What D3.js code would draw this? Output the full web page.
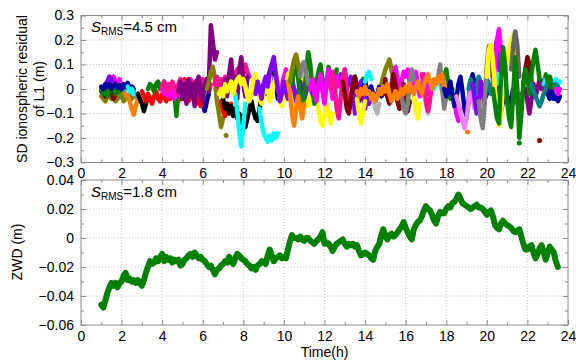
<!DOCTYPE html>
<html><head><meta charset="utf-8">
<script src="https://cdn.jsdelivr.net/npm/d3@7"></script>
<style>
body{margin:0;background:#fff}
text{font-family:"Liberation Sans",Arial,sans-serif;fill:#000}
</style>
</head><body>
<svg id="c" width="576" height="361"></svg>
<script>
// ---------------- DATA ----------------
const xTicks = [0,2,4,6,8,10,12,14,16,18,20,22,24];
const xMinorTicks = [1,3,5,7,9,11,13,15,17,19,21,23];
const ionoTicks = [-0.3,-0.2,-0.1,0,0.1,0.2,0.3];
const ionoMinorTicks = [-0.25,-0.15,-0.05,0.05,0.15,0.25];
const zwdTicks = [-0.06,-0.04,-0.02,0,0.02,0.04];
const zwdMinorTicks = [-0.05,-0.03,-0.01,0.01,0.03];
const topNote = "4.5 cm";
const bottomNote = "1.8 cm";

// ZWD (m), 0.1 h sampling from 1.0 h
const zwdStart = 1.0;
const zwdStep = 0.1;
const zwdValues = [
-0.046,-0.048,-0.043,-0.038,-0.034,-0.031,-0.033,-0.031,-0.034,-0.031,
-0.030,-0.026,-0.024,-0.029,-0.028,-0.030,-0.029,-0.031,-0.029,-0.031,
-0.033,-0.029,-0.024,-0.020,-0.016,-0.018,-0.017,-0.014,-0.016,-0.013,
-0.011,-0.016,-0.013,-0.015,-0.014,-0.017,-0.015,-0.016,-0.015,-0.019,
-0.018,-0.015,-0.014,-0.012,-0.011,-0.013,-0.010,-0.012,-0.014,-0.013,
-0.015,-0.016,-0.018,-0.020,-0.019,-0.022,-0.025,-0.022,-0.021,-0.019,
-0.018,-0.016,-0.017,-0.013,-0.016,-0.018,-0.014,-0.011,-0.012,-0.014,
-0.015,-0.016,-0.018,-0.019,-0.021,-0.020,-0.022,-0.019,-0.018,-0.016,
-0.017,-0.018,-0.012,-0.008,-0.012,-0.016,-0.014,-0.013,-0.012,-0.014,
-0.013,-0.014,-0.008,-0.002,0.002,0.000,0.000,-0.001,0.001,-0.001,
-0.002,0.000,0.000,-0.002,-0.003,-0.004,-0.002,-0.001,0.001,0.004,
-0.004,-0.003,-0.004,-0.006,-0.009,-0.006,-0.004,-0.003,-0.002,-0.001,
-0.004,-0.006,-0.004,-0.005,-0.004,-0.006,-0.005,-0.009,-0.012,-0.011,
-0.010,-0.011,-0.012,-0.014,-0.015,-0.009,-0.006,-0.004,0.002,0.006,
0.001,-0.001,0.002,0.003,0.001,0.002,0.004,0.006,0.008,0.011,
0.007,0.004,0.001,-0.001,0.006,0.009,0.011,0.012,0.015,0.019,
0.022,0.020,0.019,0.016,0.012,0.010,0.015,0.018,0.017,0.017,
0.020,0.022,0.021,0.024,0.025,0.027,0.030,0.027,0.024,0.023,
0.022,0.021,0.020,0.021,0.022,0.023,0.021,0.021,0.020,0.018,
0.016,0.018,0.019,0.015,0.009,0.007,0.006,0.010,0.012,0.010,
0.009,0.008,0.007,0.005,0.004,0.005,0.006,0.001,-0.004,-0.008,
-0.008,-0.006,-0.005,-0.010,-0.014,-0.011,-0.007,-0.005,-0.010,-0.015,
-0.010,-0.006,-0.008,-0.010,-0.016,-0.020
];

// SD ionospheric residuals (m), 0.1 h sampling; one array per satellite pair
const ionoStep = 0.1;
const iono01 = [-0.03,-0.04,-0.05,-0.03,-0.02,-0.04,-0.03,-0.05,-0.04,-0.02,-0.03,-0.05,-0.04,-0.03,-0.02,-0.04,-0.03];
const iono02 = [-0.01,-0.02,-0.03,-0.01,0.0,-0.02,-0.04,-0.02];
const iono03 = [0.0,-0.02,0.01,-0.03,-0.01,0.02,0.0,-0.02,0.01,-0.01,0.0];
const iono04 = [0.02,0.03,0.05,0.04,0.05,0.03,0.02,0.04,0.01];
const iono05 = [0.03,0.05,0.04,0.02];
const iono06 = [0.01,0.0,0.02,0.01,0.02,0.0,0.015,0.02,0.005,0.015,0.0,0.02,0.01,0.025,0.005,0.01,0.0];
const iono07 = [-0.02,-0.03,-0.05,-0.08,-0.105,-0.07,-0.04];
const iono08 = [-0.02,-0.01,-0.03,-0.02];
const iono09 = [0.01,-0.01,0.0,-0.02];
const iono10 = [-0.02,-0.04,-0.06,-0.09,-0.06,-0.03];
const iono11 = [-0.01,-0.03,-0.05,-0.02,-0.04,-0.06,-0.03,-0.01,-0.04,-0.05,-0.02,-0.03,-0.05,-0.02,-0.04,-0.03,-0.01,-0.03,-0.05,-0.02,-0.04];
const iono12 = [0.0,0.02,0.01,-0.01,0.02,0.03,0.0,0.01,0.03,0.0,-0.01,0.02,0.01,0.0,-0.11,0.0,0.02,0.03,0.01,0.02];
const iono13 = [0.0,-0.02,0.01,-0.03,0.0,-0.02,-0.04,0.0,-0.01,-0.03];
const iono14 = [0.02,-0.03,0.04,-0.01,-0.05,0.01,-0.04,-0.02,-0.06,-0.03,-0.07,-0.04];
const iono15 = [0.01,0.03,-0.01,0.02,0.0,0.03,0.01,-0.02,0.02,0.04,0.0,0.03,-0.01,0.02,0.04,0.0,0.03,0.01,-0.02,0.02,0.04,0.01,0.03,-0.01,0.02];
const iono16 = [-0.01,0.03,-0.04,0.02,-0.06,0.04,-0.03,0.02,-0.07,0.03,0.05,-0.02,-0.05,0.02,0.04,-0.01];
const iono17 = [0.02,0.26,0.19,0.12,0.15];
const iono18 = [0.0,0.03,0.07,0.09,0.04,-0.05,-0.1,-0.155,-0.12];
const iono19 = [-0.19];
const iono20 = [-0.05,-0.09,-0.11,-0.07,-0.1,-0.06];
const iono21 = [0.02,0.05,0.0,0.04,0.01,0.05,0.02,0.06,0.03,0.07,0.04,0.08,0.05,0.09,0.06,0.1,0.07,0.05];
const iono22 = [-0.02,0.04,-0.03,0.06,0.12,0.0,0.05,-0.04,0.08,0.13,0.02,-0.03,0.05];
const iono23 = [-0.04,-0.08,-0.06,-0.10,-0.07,-0.11,-0.08,-0.12,-0.10,-0.14,-0.11,-0.155,-0.12,-0.08,-0.05,-0.09,-0.12,-0.13,-0.08,-0.03,0.02,-0.02,0.04,0.07,0.10,0.08,0.02,-0.04];
const iono24 = [-0.02,-0.09,-0.17,-0.235,-0.15,-0.06];
const iono25 = [-0.08,-0.14,-0.18,-0.20,-0.215,-0.19,-0.21,-0.18,-0.20,-0.18];
const iono26 = [-0.02,0.0,-0.03,0.02,-0.01,0.01,0.03,-0.02,0.02,0.04,0.05,0.02,0.04,0.01,-0.03,-0.05,-0.02,0.03,0.06,0.02,-0.04,-0.06,-0.02,0.03,0.0,-0.05,-0.03,0.02,0.05,0.01,-0.04,-0.07,-0.03,0.02,0.06,0.07,0.02,-0.06,-0.09,-0.05,0.0,0.04,0.02,-0.03,-0.07,-0.04,0.01,0.04,-0.01,-0.08,-0.13,-0.15,-0.11,-0.06,-0.1,-0.14,-0.1];
const iono27 = [-0.02,0.03,0.0,-0.04,0.02,0.05,0.01,0.06,0.1,0.13,0.06,0.0,-0.05,-0.02,0.03,-0.01,-0.04,0.0,0.04,0.0,-0.05,-0.02,0.03,0.0,-0.04,-0.01,0.03,0.01,-0.02,0.02,0.04,0.0];
const iono28 = [0.02,0.05,0.03,0.06,0.02,0.08,0.0,0.03,0.05,0.01,-0.1,0.02,-0.01,0.03,-0.03,-0.08,-0.02,-0.06,-0.03];
const iono29 = [0.02,0.08,0.12,0.05,-0.04,-0.09,-0.03,0.08,0.15,0.1,0.0,-0.06,0.02,0.07,0.1,0.04,-0.05,0.02,0.09,0.05,-0.02,0.03,0.08];
const iono30 = [0.03,-0.02,-0.1,-0.15,-0.08,-0.03,-0.07,-0.12,-0.06];
const iono31 = [0.03,0.08,0.12,0.14,0.1,0.05];
const iono32 = [0.05,0.1,0.11,0.06,0.02];
const iono33 = [0.0,0.04,-0.02,-0.05,0.02,0.06,-0.01,-0.06,0.03,0.08,0.02,-0.04,0.0,0.05,0.01];
const iono34 = [0.0,0.07,0.02,-0.08,-0.12,-0.04,0.05,0.08,-0.02,-0.09,-0.03,0.02];
const iono35 = [0.03,-0.02,-0.08,-0.1,-0.04,0.02,0.05,-0.01,-0.05,-0.03];
const iono36 = [0.0,0.04,-0.01,-0.03,0.01,-0.02,-0.05,-0.02,0.01,-0.03,-0.02,0.0,-0.03,-0.01];
const iono37 = [-0.04,-0.1,-0.14,-0.09,-0.05];
const iono38 = [0.03,0.06,0.07,0.04];
const iono39 = [-0.04,-0.08,-0.1,-0.06];
const iono40 = [0.02,0.05,0.08,0.1,0.12,0.08,0.03];
const iono41 = [0.02,0.06,0.09,0.04,-0.02,0.03,0.07,0.05,0.08,0.03,-0.01,0.04,0.07,0.02,-0.03,0.01,0.06,0.04,-0.02,0.03];
const iono42 = [-0.02,0.04,-0.03,-0.06,0.0,0.06,0.02,-0.05,-0.08,-0.03,0.02,-0.04,-0.09,-0.05];
const iono43 = [-0.03,-0.08,-0.1,-0.06,0.02,0.08,0.04];
const iono44 = [0.05,0.1,0.0,-0.08,-0.03];
const iono45 = [0.06,0.02,-0.05,-0.09,-0.04,0.02];
const iono46 = [-0.01,-0.03,0.0,-0.02,0.01,-0.02,-0.01,-0.04,-0.02,-0.05,-0.03,0.0,-0.02,0.01,-0.01,0.02,-0.02,-0.05,-0.03,-0.01,-0.04,-0.02,0.0,-0.02,0.01,-0.01,0.02,0.0,-0.02,0.01,0.03,0.0,-0.02,0.02,0.04,0.06,0.03,0.0,0.04,0.02,0.05,0.03,0.06,0.02,0.0];
const iono47 = [0.0,-0.03,-0.01,0.03,-0.02,-0.07,-0.04,0.02,0.05,-0.01,-0.08,-0.11,-0.05,0.02,0.06,0.02,-0.04,-0.02,0.03,0.0,-0.04,-0.02,0.02];
const iono48 = [0.02,-0.04,-0.09,-0.05,0.01,-0.03,-0.08,-0.04,0.0,-0.03,-0.06,-0.02];
const iono49 = [-0.03,-0.06,-0.1,-0.13,-0.16,-0.12,-0.05,0.0,-0.04,-0.08,-0.05,0.0,-0.03,-0.06,-0.02];
const iono50 = [-0.175];
const iono51 = [0.0,0.04,0.02,-0.02,0.01,0.05,0.02,-0.03,0.0,0.04,0.02,-0.02];
const iono52 = [0.02,-0.04,-0.1,-0.05,0.03,0.0,-0.06];
const iono53 = [-0.05,-0.12,-0.16,-0.05,0.1,0.175,0.12,0.03];
const iono54 = [0.05,0.15,0.2,0.1,0.02];
const iono55 = [0.0,0.1,0.2,0.245,0.15,0.05,0.0];
const iono56 = [0.02,0.06,0.03,0.0,0.04];
const iono57 = [0.05,0.16,0.18,0.12,0.0,-0.1,-0.15,-0.1,0.0,0.08,0.12,0.16,0.2,0.22,0.15,-0.02,-0.13,-0.08,0.0];
const iono58 = [0.08,0.18,0.235,0.18,0.05];
const iono59 = [0.02,0.08,0.13,0.1,0.03];
const iono60 = [-0.21];
const iono61 = [0.0,-0.05,-0.1,-0.04,0.02,-0.03,0.0,0.04,0.0,0.03,0.05,0.02,-0.02,0.01,0.03,0.02,0.0];
const iono62 = [0.0,-0.06,-0.12,-0.14,0.05,0.17,0.1,-0.05,-0.12,-0.155,-0.02,0.13,0.0,-0.2,-0.1,0.02,0.08,0.05,-0.02,0.06,0.12,0.16,0.1,0.04];
const iono63 = [-0.22];
const iono64 = [0.02,0.04,0.03,0.05,0.02,0.03,0.04,0.02,0.03];
const iono65 = [0.02,-0.01,-0.03,-0.05,-0.07,-0.05,-0.02,0.0,0.03,0.05,0.02,-0.01,0.02,0.01];
const iono66 = [0.06,0.03,0.05,0.0];
const iono67 = [-0.02,-0.04,-0.01,-0.04,-0.03,-0.05,-0.03];
const iono68 = [0.0,-0.02,0.0];
const iono69 = [-0.01,0.02,0.0,-0.02,0.01];
const iono70 = [0.0,-0.03,-0.01,-0.04,-0.02,0.01];
const iono71 = [-0.03,-0.06,-0.09,-0.05,-0.02];
const iono72 = [0.0,0.02,-0.01,0.03,0.0,-0.02,0.02];
const iono73 = [0.03,0.06,0.02,-0.03,0.01,0.05,0.08,0.04];
const iono74 = [0.02,0.05,0.01,-0.03,0.02,0.04];
const iono75 = [-0.02,-0.06,-0.1,-0.05];
const iono76 = [0.0,0.03,0.05,0.02,-0.01];
const iono77 = [0.05,0.08,0.02,-0.04,0.0];
const iono78 = [-0.04,-0.1,-0.13,-0.08];
const iono79 = [-0.02,-0.05,-0.08,-0.04];
const iono80 = [-0.03,-0.08,-0.12,-0.06];

const ionoStarts = [1.0,1.0,1.0,1.2,1.3,1.0,2.2,2.5,2.3,2.8,
  3.0,3.3,4.0,4.9,4.0,4.8,6.3,6.2,7.15,6.9,
  6.6,7.0,7.0,7.6,8.8,6.8,8.6,12.5,10.4,10.2,
  10.3,10.8,11.3,12.3,12.9,13.9,13.6,14.0,14.4,14.8,
  15.3,14.9,15.8,17.6,16.8,13.6,17.9,20.5,18.5,19.05,
  19.1,19.3,19.6,20.3,20.3,20.5,20.0,21.2,21.8,22.6,
  21.9,20.3,21.6,22.8,22.2,22.9,23.0,23.4,1.8,5.8,
  5.9,5.5,9.5,13.4,16.9,17.4,17.9,18.4,15.5,16.4];
const ionoSeries = [iono01,iono02,iono03,iono04,iono05,iono06,iono07,iono08,iono09,iono10,
  iono11,iono12,iono13,iono14,iono15,iono16,iono17,iono18,iono19,iono20,
  iono21,iono22,iono23,iono24,iono25,iono26,iono27,iono28,iono29,iono30,
  iono31,iono32,iono33,iono34,iono35,iono36,iono37,iono38,iono39,iono40,
  iono41,iono42,iono43,iono44,iono45,iono46,iono47,iono48,iono49,iono50,
  iono51,iono52,iono53,iono54,iono55,iono56,iono57,iono58,iono59,iono60,
  iono61,iono62,iono63,iono64,iono65,iono66,iono67,iono68,iono69,iono70,
  iono71,iono72,iono73,iono74,iono75,iono76,iono77,iono78,iono79,iono80];
// drawing order (indices into ionoSeries): extra fill-in series go underneath
const ionoOrder = [68,69,70,71,72,73,74,75,76,77,78,79].concat(d3.range(0,68));

// ---------------- STYLE ----------------
const C = {olive:"#808000",maroon:"#800000",green:"#008000",magenta:"#ff00ff",violet:"#8000ff",
  navy:"#0000a0",orange:"#ff8000",gray:"#808080",cyan:"#00ffff",black:"#000000",red:"#ff0000",
  pink:"#ff1493",purple:"#800080",yellow:"#ffff00",lgray:"#b4b4b4",teal:"#008080",lviolet:"#ee82ee",dgray:"#666666"};
const ionoColors = [C.olive,C.maroon,C.green,C.magenta,C.violet,C.navy,C.orange,C.gray,C.cyan,C.black,
  C.red,C.green,C.magenta,C.red,C.pink,C.purple,C.purple,C.olive,C.olive,C.red,
  C.pink,C.purple,C.black,C.cyan,C.cyan,C.yellow,C.violet,C.violet,C.green,C.orange,
  C.olive,C.gray,C.magenta,C.pink,C.maroon,C.navy,C.yellow,C.cyan,C.lgray,C.olive,
  C.magenta,C.maroon,C.gray,C.gray,C.pink,C.orange,C.navy,C.navy,C.lviolet,C.orange,
  C.teal,C.violet,C.gray,C.violet,C.magenta,C.cyan,C.yellow,C.dgray,C.maroon,C.maroon,
  C.purple,C.green,C.green,C.cyan,C.teal,C.green,C.navy,C.magenta,C.gray,C.cyan,
  C.navy,C.green,C.magenta,C.green,C.lgray,C.cyan,C.green,C.magenta,C.pink,C.yellow];

const svg = d3.select("#c");
const L = 81, R = 568;
const x = d3.scaleLinear().domain([0,24]).range([L,R]);
const yTop = d3.scaleLinear().domain([-0.3,0.3]).range([162.5,15.5]);
const yBot = d3.scaleLinear().domain([-0.06,0.04]).range([325,180]);
const frameColor = "#8c8c8c";
const gridColor = "#c8c8c8";
const fmt = v => (Math.abs(v) < 1e-9 ? "0" : (v < 0 ? "\u2212" : "") + String(+Math.abs(v).toFixed(2)));

function panel(y, yTicks, clipId){
  const [y0, y1] = y.range();
  const g = svg.append("g");
  g.selectAll(".gx").data(xTicks.slice(1,-1)).join("line")
    .attr("x1",d=>x(d)).attr("x2",d=>x(d)).attr("y1",y0).attr("y2",y1)
    .attr("stroke",gridColor).attr("stroke-width",1).attr("stroke-dasharray","1,2");
  g.selectAll(".gy").data(yTicks.slice(1,-1)).join("line")
    .attr("x1",L).attr("x2",R).attr("y1",d=>y(d)).attr("y2",d=>y(d))
    .attr("stroke",gridColor).attr("stroke-width",1).attr("stroke-dasharray","1,2");
  svg.append("clipPath").attr("id",clipId).append("rect")
    .attr("x",L).attr("y",y1).attr("width",R-L).attr("height",y0-y1);
}
function frame(y, yTicks, yMinor){
  const [y0, y1] = y.range();
  const g = svg.append("g");
  g.append("g").attr("transform",`translate(0,${y0})`)
    .call(d3.axisBottom(x).tickValues(xTicks).tickFormat(d=>d).tickSizeInner(-5).tickSizeOuter(0).tickPadding(6));
  g.append("g").attr("transform",`translate(0,${y0})`)
    .call(d3.axisBottom(x).tickValues(xMinorTicks).tickFormat("").tickSizeInner(-3).tickSizeOuter(0));
  g.append("g").attr("transform",`translate(0,${y1})`)
    .call(d3.axisTop(x).tickValues(xTicks).tickFormat("").tickSizeInner(-5).tickSizeOuter(0));
  g.append("g").attr("transform",`translate(0,${y1})`)
    .call(d3.axisTop(x).tickValues(xMinorTicks).tickFormat("").tickSizeInner(-3).tickSizeOuter(0));
  g.append("g").attr("transform",`translate(${L},0)`)
    .call(d3.axisLeft(y).tickValues(yTicks).tickFormat(fmt).tickSizeInner(-5).tickSizeOuter(0).tickPadding(7));
  g.append("g").attr("transform",`translate(${L},0)`)
    .call(d3.axisLeft(y).tickValues(yMinor).tickFormat("").tickSizeInner(-3).tickSizeOuter(0));
  g.append("g").attr("transform",`translate(${R},0)`)
    .call(d3.axisRight(y).tickValues(yTicks).tickFormat("").tickSizeInner(-5).tickSizeOuter(0));
  g.append("g").attr("transform",`translate(${R},0)`)
    .call(d3.axisRight(y).tickValues(yMinor).tickFormat("").tickSizeInner(-3).tickSizeOuter(0));
  g.selectAll(".domain").remove();
  g.selectAll(".tick line").attr("stroke",frameColor);
  g.selectAll(".tick text").attr("font-size",14).attr("fill","#000")
    .attr("font-family","Liberation Sans, Arial, sans-serif");
  g.append("rect").attr("x",L).attr("y",y1).attr("width",R-L).attr("height",y0-y1)
    .attr("fill","none").attr("stroke",frameColor).attr("stroke-width",1);
}

// ---- top panel ----
panel(yTop, ionoTicks, "clipTop");
const marks = svg.append("g").attr("clip-path","url(#clipTop)");
ionoOrder.forEach(i=>{
  const vals = ionoSeries[i];
  const t0 = ionoStarts[i];
  const pts = vals.map((v,k)=>[t0 + k*ionoStep, v]);
  if (pts.length === 1){
    marks.append("circle").attr("cx",x(pts[0][0])).attr("cy",yTop(pts[0][1])).attr("r",2.5).attr("fill",ionoColors[i]);
  } else {
    marks.append("path").datum(pts)
      .attr("d", d3.line().x(d=>x(d[0])).y(d=>yTop(d[1])))
      .attr("fill","none").attr("stroke",ionoColors[i]).attr("stroke-width",4.5)
      .attr("stroke-linejoin","round").attr("stroke-linecap","round");
  }
});
frame(yTop, ionoTicks, ionoMinorTicks);

// ---- bottom panel ----
panel(yBot, zwdTicks, "clipBot");
const zwdPts = zwdValues.map((v,k)=>[zwdStart + k*zwdStep, v]);
svg.append("g").attr("clip-path","url(#clipBot)").append("path").datum(zwdPts)
  .attr("d", d3.line().x(d=>x(d[0])).y(d=>yBot(d[1])))
  .attr("fill","none").attr("stroke","#008000").attr("stroke-width",6)
  .attr("stroke-linejoin","round").attr("stroke-linecap","round");
frame(yBot, zwdTicks, zwdMinorTicks);

// ---- labels ----
function note(yy, val){
  const t = svg.append("text").attr("x",91).attr("y",yy).attr("font-size",15);
  t.append("tspan").attr("font-style","italic").text("S");
  t.append("tspan").attr("font-size",10).attr("dy",3).text("RMS");
  t.append("tspan").attr("dy",-3).text("=" + val);
}
note(32, topNote);
note(197, bottomNote);

svg.append("text").attr("transform","translate(27,89) rotate(-90)").attr("text-anchor","middle")
  .attr("font-size",14).text("SD ionospheric residual");
svg.append("text").attr("transform","translate(44,89) rotate(-90)").attr("text-anchor","middle")
  .attr("font-size",14).text("of L1 (m)");
svg.append("text").attr("transform","translate(22,252) rotate(-90)").attr("text-anchor","middle")
  .attr("font-size",14).text("ZWD (m)");
svg.append("text").attr("x",x(12)).attr("y",357).attr("text-anchor","middle")
  .attr("font-size",14).text("Time(h)");
</script>
</body></html>
